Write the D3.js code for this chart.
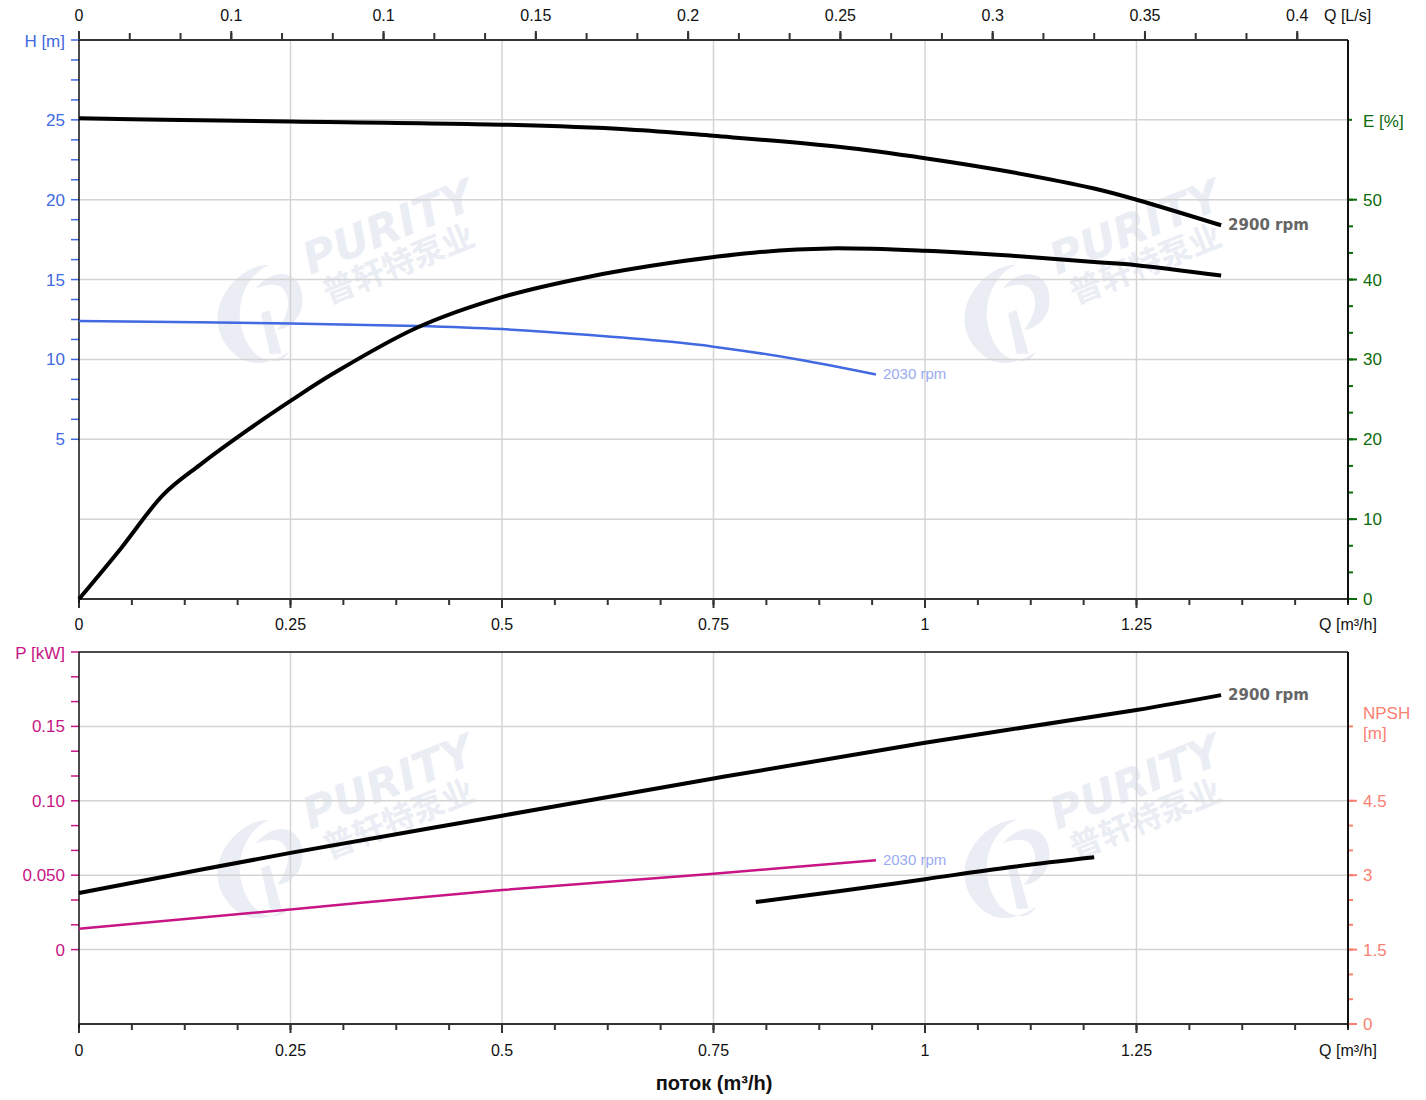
<!DOCTYPE html>
<html>
<head>
<meta charset="utf-8">
<script src="https://cdn.jsdelivr.net/npm/d3@7"></script>
<style>
  body { margin: 0; background: #fff; }
  svg { font-family: "Liberation Sans", Arial, sans-serif; }
</style>
</head>
<body>
<svg id="chart" width="1426" height="1100"></svg>
<script>
// Pump curves: head / efficiency (top), power / NPSH (bottom)

// flow, m3/h
const qHead2900 = [0, 0.1, 0.25, 0.5, 0.65, 0.75, 0.9, 1.0, 1.1, 1.2, 1.25, 1.35]
const head2900  = [25.1, 25.0, 24.9, 24.7, 24.4, 24.0, 23.3, 22.6, 21.75, 20.7, 20.0, 18.4]

const qHead2030 = [0, 0.25, 0.4, 0.5, 0.6, 0.7, 0.75, 0.85, 0.942]
const head2030  = [12.4, 12.25, 12.1, 11.9, 11.55, 11.1, 10.8, 10.0, 9.06]

const qEff = [0, 0.05, 0.1, 0.143, 0.2, 0.25, 0.3, 0.4, 0.5, 0.6, 0.7, 0.8, 0.887, 1.0, 1.1, 1.2, 1.25, 1.35]
const eff  = [0, 6.4, 13.1, 16.8, 21.2, 24.8, 28.2, 34.0, 37.8, 40.3, 42.1, 43.4, 43.9, 43.6, 43.0, 42.2, 41.8, 40.5]

const qPow2900 = [0, 0.25, 0.5, 0.75, 1.0, 1.25, 1.35]
const pow2900  = [0.038, 0.065, 0.090, 0.115, 0.139, 0.161, 0.171]

const qPow2030 = [0, 0.25, 0.5, 0.75, 0.942]
const pow2030  = [0.014, 0.027, 0.040, 0.051, 0.060]

const qNpsh = [0.8, 0.9, 1.0, 1.1, 1.2]
const npsh  = [2.46, 2.68, 2.92, 3.16, 3.36]

// axis ticks
const qTicks = [0, 0.25, 0.5, 0.75, 1, 1.25]
const qTickLabels = ["0", "0.25", "0.5", "0.75", "1", "1.25"]
const lsTicks = [0, 0.05, 0.1, 0.15, 0.2, 0.25, 0.3, 0.35, 0.4]
const lsTickLabels = ["0", "0.1", "0.1", "0.15", "0.2", "0.25", "0.3", "0.35", "0.4"]
const hTicks = [5, 10, 15, 20, 25]
const eTicks = [0, 10, 20, 30, 40, 50]
const pTicks = [0, 0.05, 0.1, 0.15]
const pTickLabels = ["0", "0.050", "0.10", "0.15"]
const nTicks = [0, 1.5, 3, 4.5]

const L = 79, R = 1348
const T1 = 40, B1 = 599
const T2 = 652, B2 = 1024

const svg = d3.select("#chart")

const x = d3.scaleLinear().domain([0, 1.5]).range([L, R])
const xLs = d3.scaleLinear().domain([0, 1.5 / 3.6]).range([L, R])
const yH = d3.scaleLinear().domain([-5, 30]).range([B1, T1])
const yE = d3.scaleLinear().domain([0, 70]).range([B1, T1])
const yP = d3.scaleLinear().domain([-0.05, 0.2]).range([B2, T2])
const yN = d3.scaleLinear().domain([0, 7.5]).range([B2, T2])

const GRID = "#d4d4d4"
const BLUE = "#4169e1"
const GREEN = "#0b6b0b"
const MAGENTA = "#c71585"
const SALMON = "#fa8072"

// watermark
function watermark(cx, cy) {
  const g = svg.append("g")
    .attr("transform", `translate(${cx},${cy}) rotate(-22)`)
    .attr("fill", "#eaedf4")
  g.append("path")
    .attr("d", "M-140,28 C-158,-18 -104,-50 -72,-37 C-99,-37 -131,-5 -120,36 C-113,55 -95,60 -87,51 C-111,56 -131,51 -140,28 Z")
  g.append("path")
    .attr("d", "M-94,-20 C-66,-35 -43,-18 -55,9 C-62,26 -80,30 -89,26 C-75,18 -64,5 -68,-9 C-71,-18 -84,-20 -94,-20 Z")
  g.append("path")
    .attr("d", "M-98,5 L-89,5 L-94,50 L-105,46 Z")
  g.append("text")
    .attr("x", -38).attr("y", -12)
    .attr("font-size", 44).attr("font-weight", 900).attr("font-style", "italic")
    .attr("font-family", "'DejaVu Sans', sans-serif")
    .text("PURITY")
  g.append("text")
    .attr("x", -32).attr("y", 22)
    .attr("font-size", 32).attr("font-weight", 700)
    .attr("font-family", "'Noto Sans CJK SC', sans-serif")
    .text("普轩特泵业")
}
watermark(350, 272)
watermark(1097, 272)
watermark(350, 827)
watermark(1097, 827)

// gridlines
function vgrid(top, bottom) {
  svg.append("g").selectAll("line").data(qTicks.slice(1))
    .join("line")
    .attr("x1", d => x(d)).attr("x2", d => x(d))
    .attr("y1", top).attr("y2", bottom)
    .attr("stroke", GRID).attr("stroke-width", 1.5)
}
function hgrid(vals, scale) {
  svg.append("g").selectAll("line").data(vals)
    .join("line")
    .attr("x1", L).attr("x2", R)
    .attr("y1", d => scale(d)).attr("y2", d => scale(d))
    .attr("stroke", GRID).attr("stroke-width", 1.5)
}
vgrid(T1, B1)
hgrid([0, 5, 10, 15, 20, 25], yH)
vgrid(T2, B2)
hgrid(pTicks, yP)

// side ticks
function ticks(vals, pos, side, len, color, width) {
  svg.append("g").selectAll("line").data(vals).join("line")
    .attr("x1", side === "left" ? L : R)
    .attr("x2", side === "left" ? L - len : R + len)
    .attr("y1", d => pos(d)).attr("y2", d => pos(d))
    .attr("stroke", color).attr("stroke-width", width)
}
function hticks(vals, pos, base, len, dir, color) {
  svg.append("g").selectAll("line").data(vals).join("line")
    .attr("x1", d => pos(d)).attr("x2", d => pos(d))
    .attr("y1", base).attr("y2", base + dir * len)
    .attr("stroke", color).attr("stroke-width", 2)
}
function labels(vals, texts, xf, yf, anchor, color, size) {
  svg.append("g").selectAll("text").data(vals).join("text")
    .attr("x", xf).attr("y", yf)
    .attr("text-anchor", anchor)
    .attr("fill", color).attr("font-size", size || 16)
    .text((d, i) => texts[i])
}

// ---- top chart axes ----
const lsMinor = d3.range(0, 0.4 + 1e-9, 0.05 / 3)
hticks(lsMinor, xLs, T1, 7, -1, "#333")
hticks(lsTicks, xLs, T1, 9, -1, "#333")
labels(lsTicks, lsTickLabels, d => xLs(d), 21, "middle", "#111")
svg.append("text").attr("x", 1324).attr("y", 21).attr("font-size", 16).attr("fill", "#111").text("Q [L/s]")

const qMinor = d3.range(0, 1.5 + 1e-9, 0.0625)
hticks(qMinor, x, B1, 6, 1, "#333")
hticks(qTicks, x, B1, 9, 1, "#333")
labels(qTicks, qTickLabels, d => x(d), 630, "middle", "#111")
svg.append("text").attr("x", R).attr("y", 630).attr("text-anchor", "middle")
  .attr("font-size", 16).attr("fill", "#111").text("Q [m³/h]")

// H axis, left
const hMinor = d3.range(5, 30 + 1e-9, 1.25)
ticks(hMinor, yH, "left", 8, BLUE, 1.5)
labels(hTicks, hTicks.map(String), L - 14, d => yH(d) + 6, "end", BLUE, 17)
svg.append("text").attr("x", L - 14).attr("y", yH(30) + 7).attr("text-anchor", "end")
  .attr("font-size", 17).attr("fill", BLUE).text("H [m]")

// E axis, right
const eMinor = d3.range(0, 50 + 1e-9, 10 / 3)
ticks(eMinor, yE, "right", 5, GREEN, 2)
ticks(eTicks, yE, "right", 9, GREEN, 2)
ticks([60], yE, "right", 4, GREEN, 2)
labels(eTicks, eTicks.map(String), R + 15, d => yE(d) + 6, "start", GREEN, 17)
svg.append("text").attr("x", R + 15).attr("y", yE(60) + 7)
  .attr("font-size", 17).attr("fill", GREEN).text("E [%]")

// frame lines
svg.append("line").attr("x1", L).attr("x2", R).attr("y1", T1).attr("y2", T1).attr("stroke", "#333").attr("stroke-width", 2)
svg.append("line").attr("x1", L).attr("x2", R).attr("y1", B1).attr("y2", B1).attr("stroke", "#333").attr("stroke-width", 2)
svg.append("line").attr("x1", L).attr("x2", L).attr("y1", T1).attr("y2", B1 + 4).attr("stroke", "#111").attr("stroke-width", 1.5)
svg.append("line").attr("x1", R).attr("x2", R).attr("y1", T1).attr("y2", B1 + 4).attr("stroke", "#111").attr("stroke-width", 2)

// ---- bottom chart axes ----
hticks(qMinor, x, B2, 6, 1, "#333")
hticks(qTicks, x, B2, 9, 1, "#333")
labels(qTicks, qTickLabels, d => x(d), 1056, "middle", "#111")
svg.append("text").attr("x", R).attr("y", 1056).attr("text-anchor", "middle")
  .attr("font-size", 16).attr("fill", "#111").text("Q [m³/h]")

const pMinor = d3.range(0, 0.2 + 1e-9, 0.05 / 3)
ticks(pMinor, yP, "left", 8, MAGENTA, 1.5)
labels(pTicks, pTickLabels, L - 14, d => yP(d) + 6, "end", MAGENTA, 17)
svg.append("text").attr("x", L - 14).attr("y", yP(0.2) + 7).attr("text-anchor", "end")
  .attr("font-size", 17).attr("fill", MAGENTA).text("P [kW]")

const nMinor = d3.range(0, 4.5 + 1e-9, 0.5)
ticks(nMinor, yN, "right", 5, SALMON, 2)
ticks(nTicks, yN, "right", 9, SALMON, 2)
ticks([6], yN, "right", 5, SALMON, 2)
labels(nTicks, nTicks.map(String), R + 15, d => yN(d) + 6, "start", SALMON, 17)
svg.append("text").attr("x", R + 15).attr("y", yN(6) - 7)
  .attr("font-size", 17).attr("fill", SALMON).text("NPSH")
svg.append("text").attr("x", R + 15).attr("y", yN(6) + 13)
  .attr("font-size", 17).attr("fill", SALMON).text("[m]")

svg.append("line").attr("x1", L).attr("x2", R).attr("y1", T2).attr("y2", T2).attr("stroke", "#111").attr("stroke-width", 1.5)
svg.append("line").attr("x1", L).attr("x2", R).attr("y1", B2).attr("y2", B2).attr("stroke", "#333").attr("stroke-width", 2)
svg.append("line").attr("x1", L).attr("x2", L).attr("y1", T2).attr("y2", B2 + 4).attr("stroke", "#111").attr("stroke-width", 1.5)
svg.append("line").attr("x1", R).attr("x2", R).attr("y1", T2).attr("y2", B2 + 4).attr("stroke", "#111").attr("stroke-width", 2)

// ---- curves ----
function curve(qs, vs, ys, color, width) {
  const line = d3.line()
    .x(d => x(d[0])).y(d => ys(d[1]))
    .curve(d3.curveCatmullRom.alpha(0.5))
  svg.append("path")
    .datum(d3.zip(qs, vs))
    .attr("d", line)
    .attr("fill", "none")
    .attr("stroke", color)
    .attr("stroke-width", width)
}
curve(qHead2030, head2030, yH, BLUE, 2.5)
curve(qHead2900, head2900, yH, "#000", 4)
curve(qEff, eff, yE, "#000", 4)
curve(qPow2030, pow2030, yP, MAGENTA, 2.5)
curve(qPow2900, pow2900, yP, "#000", 4)
curve(qNpsh, npsh, yN, "#000", 4)

// curve labels
function rpmLabel(q, y, text, bold) {
  svg.append("text")
    .attr("x", x(q) + 7).attr("y", y + 5)
    .attr("font-size", 15)
    .attr("font-weight", bold ? 700 : 400)
    .attr("font-family", bold ? "'DejaVu Sans', sans-serif" : null)
    .attr("fill", bold ? "#666" : "#9aabf2")
    .text(text)
}
rpmLabel(1.35, yH(18.4), "2900 rpm", true)
rpmLabel(0.942, yH(9.06), "2030 rpm", false)
rpmLabel(1.35, yP(0.171), "2900 rpm", true)
rpmLabel(0.942, yP(0.060), "2030 rpm", false)

// title
svg.append("text")
  .attr("x", 714).attr("y", 1090)
  .attr("text-anchor", "middle")
  .attr("font-size", 20).attr("font-weight", 700)
  .attr("fill", "#111")
  .text("поток (m³/h)")
</script>
</body>
</html>
